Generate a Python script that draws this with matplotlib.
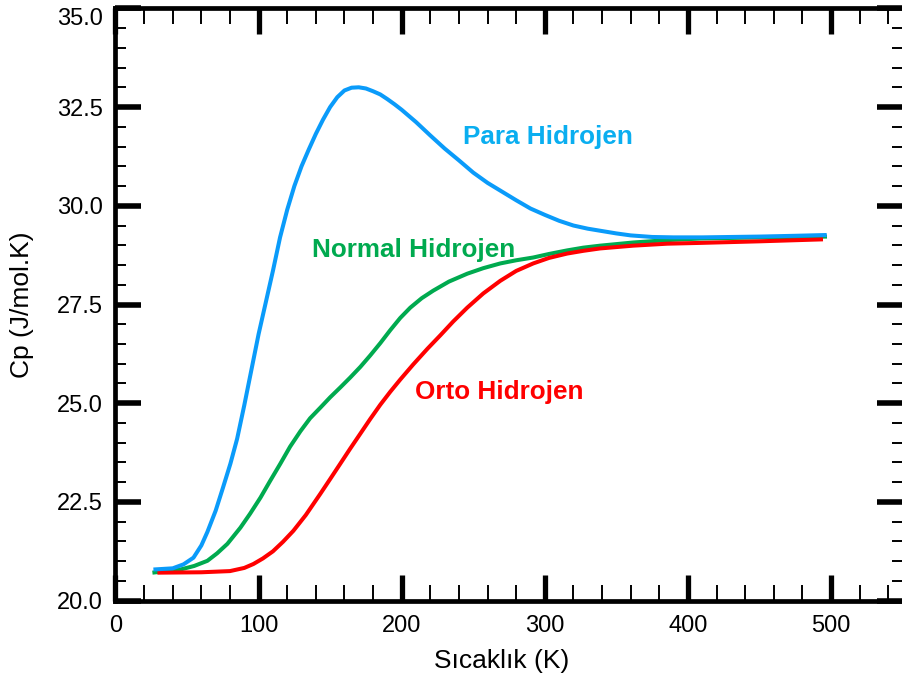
import matplotlib
matplotlib.use("Agg")
import matplotlib.pyplot as plt
from matplotlib.ticker import MultipleLocator, FormatStrFormatter

plt.rcParams['font.family'] = ['Liberation Sans', 'DejaVu Sans']

# ---- data ----
para_T = [26.5, 40, 47.5, 54.5, 60, 64.2, 70, 75, 80.3, 85, 90, 95, 100, 105,
          110, 115, 120, 125, 130, 135, 140, 145, 150, 155, 160, 165, 170, 175,
          180, 185, 190, 195, 200, 210, 220, 230, 240, 250, 260, 270, 280, 290,
          300, 310, 320, 330, 340, 350, 360, 375, 390, 410, 430, 450, 475, 497]
para_Cp = [20.79, 20.82, 20.92, 21.09, 21.40, 21.74, 22.28, 22.85, 23.47, 24.10,
           24.95, 25.85, 26.75, 27.55, 28.35, 29.20, 29.90, 30.50, 31.00, 31.42,
           31.82, 32.18, 32.50, 32.75, 32.92, 32.99, 33.00, 32.97, 32.90, 32.82,
           32.70, 32.57, 32.43, 32.12, 31.78, 31.45, 31.15, 30.84, 30.58, 30.36,
           30.14, 29.93, 29.77, 29.62, 29.50, 29.42, 29.36, 29.30, 29.25, 29.21,
           29.20, 29.20, 29.21, 29.22, 29.24, 29.26]

normal_T = [25.8, 45.4, 55, 64.2, 71, 78.2, 87.3, 94, 101.3, 108, 115.2, 122,
            129.2, 136, 143.2, 150, 157.1, 164, 171.1, 178, 185, 192, 199, 206,
            214, 222, 233, 245.8, 257, 268.9, 280, 291.9, 303, 315.6, 327, 338.7,
            361.7, 385.5, 408.5, 450, 497.2]
normal_Cp = [20.71, 20.79, 20.88, 21.01, 21.20, 21.44, 21.85, 22.20, 22.61, 23.03,
             23.47, 23.90, 24.29, 24.62, 24.89, 25.15, 25.40, 25.65, 25.92, 26.21,
             26.52, 26.85, 27.16, 27.42, 27.66, 27.85, 28.08, 28.28, 28.42, 28.54,
             28.62, 28.69, 28.78, 28.87, 28.94, 28.99, 29.07, 29.13, 29.17, 29.20,
             29.22]

orto_T = [29.3, 60, 80, 90, 96.4, 103, 110, 117, 124.3, 133, 143.2, 150, 157.1,
          164, 171.1, 178, 185, 192, 199, 208, 218, 227, 236, 245.8, 257, 268.9,
          280, 291.9, 303, 315.6, 327, 338.7, 361.7, 385.5, 408.5, 450, 494.4]
orto_Cp = [20.71, 20.72, 20.75, 20.83, 20.93, 21.07, 21.25, 21.49, 21.77, 22.17,
           22.71, 23.08, 23.47, 23.85, 24.23, 24.60, 24.96, 25.29, 25.60, 25.98,
           26.38, 26.72, 27.07, 27.42, 27.78, 28.10, 28.35, 28.54, 28.68, 28.79,
           28.86, 28.92, 28.99, 29.04, 29.06, 29.10, 29.15]

series_labels = ["Para Hidrojen", "Normal Hidrojen", "Orto Hidrojen"]
x_label = "Sıcaklık (K)"
y_label = "Cp (J/mol.K)"

# ---- figure ----
fig = plt.figure(figsize=(9.03, 6.81), dpi=100)
ax = fig.add_axes([0.1279, 0.1179, 0.9995 - 0.1279, 0.9878 - 0.1179])

lw = 2.9
ax.plot(normal_T, normal_Cp, color="#00AA4F", lw=lw, solid_capstyle="butt",
        solid_joinstyle="round", zorder=3)
ax.plot(orto_T, orto_Cp, color="#FF0000", lw=lw, solid_capstyle="butt",
        solid_joinstyle="round", zorder=4)
ax.plot(para_T, para_Cp, color="#0A9BFA", lw=lw, solid_capstyle="butt",
        solid_joinstyle="round", zorder=5)

ax.text(302, 31.75, series_labels[0], color="#0AAEF0", fontsize=18.8,
        fontweight="bold", ha="center", va="center")
ax.text(208, 28.88, series_labels[1], color="#00AA4F", fontsize=18.8,
        fontweight="bold", ha="center", va="center")
ax.text(268, 25.29, series_labels[2], color="#FF0000", fontsize=18.8,
        fontweight="bold", ha="center", va="center")

ax.set_xlim(0, 550)
ax.set_ylim(20, 35)

ax.xaxis.set_major_locator(MultipleLocator(100))
ax.xaxis.set_minor_locator(MultipleLocator(20))
ax.yaxis.set_major_locator(MultipleLocator(2.5))
ax.yaxis.set_minor_locator(MultipleLocator(0.5))
ax.yaxis.set_major_formatter(FormatStrFormatter("%.1f"))

ax.tick_params(which="both", direction="in", top=True, right=True, colors="black")
ax.tick_params(axis="x", which="major", length=19, width=3.8, pad=10, labelsize=17)
ax.tick_params(axis="x", which="minor", length=11.5, width=1.4)
ax.tick_params(axis="y", which="major", length=18.5, width=4.0, pad=9, labelsize=17)
ax.tick_params(axis="y", which="minor", length=8, width=1.4)

for side in ["left", "bottom", "top"]:
    ax.spines[side].set_linewidth(3.4)
    ax.spines[side].set_color("black")
ax.spines["right"].set_linewidth(1.0)
ax.spines["right"].set_color("#999999")

ax.set_xlabel(x_label, fontsize=19)
ax.set_ylabel(y_label, fontsize=19)
ax.xaxis.set_label_coords(0.49, -0.082)
ax.yaxis.set_label_coords(-0.104, 0.5)

fig.canvas.draw()
for lab in ax.get_yticklabels():
    if lab.get_text() == "35.0":
        lab.set_verticalalignment("top")

fig.savefig("out.png", dpi=100)
